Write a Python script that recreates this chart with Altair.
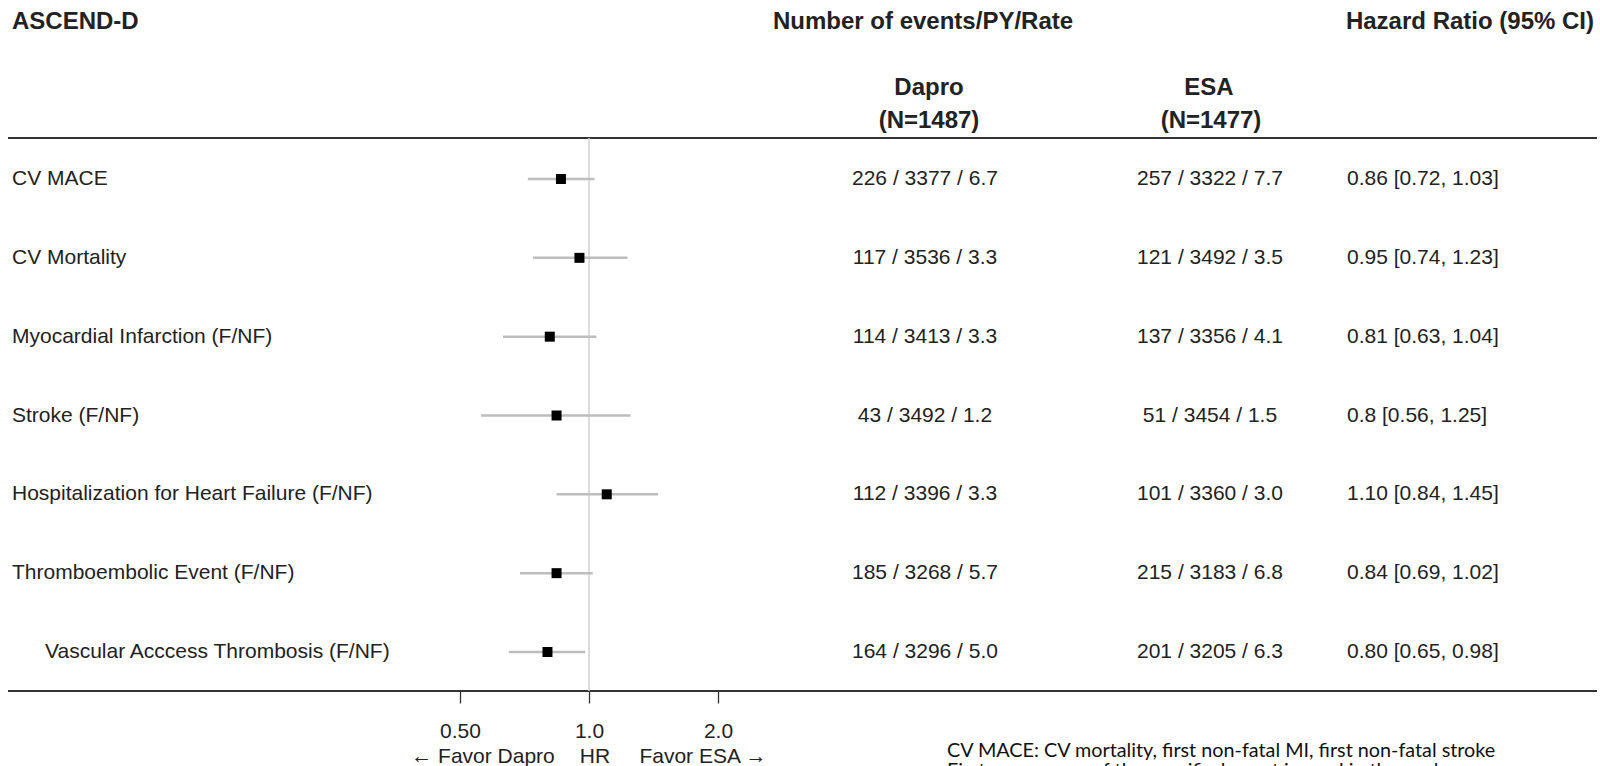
import altair as alt
import pandas as pd

# ---------------- data ----------------
outcomes = [
    "CV MACE",
    "CV Mortality",
    "Myocardial Infarction (F/NF)",
    "Stroke (F/NF)",
    "Hospitalization for Heart Failure (F/NF)",
    "Thromboembolic Event (F/NF)",
    "Vascular Acccess Thrombosis (F/NF)",
]
indent = [0, 0, 0, 0, 0, 0, 1]
hr = [0.86, 0.95, 0.81, 0.84, 1.10, 0.84, 0.80]
lower = [0.72, 0.74, 0.63, 0.56, 0.84, 0.69, 0.65]
upper = [1.03, 1.23, 1.04, 1.25, 1.45, 1.02, 0.98]
dapro = ["226 / 3377 / 6.7", "117 / 3536 / 3.3", "114 / 3413 / 3.3", "43 / 3492 / 1.2",
         "112 / 3396 / 3.3", "185 / 3268 / 5.7", "164 / 3296 / 5.0"]
esa = ["257 / 3322 / 7.7", "121 / 3492 / 3.5", "137 / 3356 / 4.1", "51 / 3454 / 1.5",
       "101 / 3360 / 3.0", "215 / 3183 / 6.8", "201 / 3205 / 6.3"]
hr_text = ["0.86 [0.72, 1.03]", "0.95 [0.74, 1.23]", "0.81 [0.63, 1.04]", "0.8 [0.56, 1.25]",
           "1.10 [0.84, 1.45]", "0.84 [0.69, 1.02]", "0.80 [0.65, 0.98]"]
tick_values = [0.5, 1.0, 2.0]
tick_labels = ["0.50", "1.0", "2.0"]

df = pd.DataFrame({
    "row": list(range(len(outcomes))),
    "outcome": outcomes,
    "indent": indent,
    "hr": hr,
    "lower": lower,
    "upper": upper,
    "dapro": dapro,
    "esa": esa,
    "hr_text": hr_text,
})
one = pd.DataFrame({"k": [0]})

FONT = "Liberation Sans"
FS = 21
HFS = 24
W, H = 1600, 691

yenc = alt.Y("row:Q", scale=alt.Scale(domain=[0, 6], range=[179, 652], nice=False), axis=None)
label_expr = ("datum.value == 0.5 ? '" + tick_labels[0] + "' : (datum.value == 1 ? '"
              + tick_labels[1] + "' : '" + tick_labels[2] + "')")
xscale = alt.Scale(type="log", domain=[0.5, 2.0], range=[460, 718], nice=False)

base = alt.Chart(df)

ci = base.mark_rule(color="#bdbdbd", strokeWidth=2.5).encode(
    x=alt.X("lower:Q", scale=xscale,
            axis=alt.Axis(values=tick_values, labelExpr=label_expr, title=None,
                          domain=False, grid=False, tickSize=12, tickWidth=1.3,
                          tickColor="#333333", labelFont=FONT, labelFontSize=FS,
                          labelColor="#222222", labelPadding=17, labelFlush=False,
                          labelOverlap=False)),
    x2="upper:Q",
    y=yenc,
)
pts = base.mark_square(color="black", size=100, opacity=1).encode(
    x=alt.X("hr:Q", scale=xscale), y=yenc
)
refline = alt.Chart(one).mark_rule(color="#d4d4d4", strokeWidth=1.6).encode(
    x=alt.datum(1.0), y=alt.value(138), y2=alt.value(691)
)

lab0 = base.transform_filter("datum.indent == 0").mark_text(
    align="left", baseline="middle", font=FONT, fontSize=FS, color="#222222"
).encode(x=alt.value(12), y=yenc, text="outcome:N")
lab1 = base.transform_filter("datum.indent == 1").mark_text(
    align="left", baseline="middle", font=FONT, fontSize=FS, color="#222222"
).encode(x=alt.value(45), y=yenc, text="outcome:N")
col_d = base.mark_text(align="center", baseline="middle", font=FONT, fontSize=FS,
                       color="#222222").encode(x=alt.value(925), y=yenc, text="dapro:N")
col_e = base.mark_text(align="center", baseline="middle", font=FONT, fontSize=FS,
                       color="#222222").encode(x=alt.value(1210), y=yenc, text="esa:N")
col_h = base.mark_text(align="left", baseline="middle", font=FONT, fontSize=FS,
                       color="#222222").encode(x=alt.value(1347), y=yenc, text="hr_text:N")


def note(text, x, y, align="left", bold=False, size=FS, font=FONT, color="#222222"):
    return alt.Chart(one).mark_text(
        text=text, align=align, baseline="middle", font=font, fontSize=size,
        fontWeight="bold" if bold else "normal", color=color,
    ).encode(x=alt.value(x), y=alt.value(y))


def hline(y):
    return alt.Chart(one).mark_rule(color="#333333", strokeWidth=2).encode(
        x=alt.value(8), x2=alt.value(1597), y=alt.value(y)
    )


layers = [
    hline(138), hline(691), refline, ci, pts,
    lab0, lab1, col_d, col_e, col_h,
    note("ASCEND-D", 12, 22, bold=True, size=HFS),
    note("Number of events/PY/Rate", 773, 22, bold=True, size=HFS),
    note("Hazard Ratio (95% CI)", 1594, 22, align="right", bold=True, size=HFS),
    note("Dapro", 929, 88, align="center", bold=True, size=HFS),
    note("(N=1487)", 929, 121, align="center", bold=True, size=HFS),
    note("ESA", 1209, 88, align="center", bold=True, size=HFS),
    note("(N=1477)", 1211, 121, align="center", bold=True, size=HFS),
    note("\u2190 Favor Dapro", 483, 757, align="center"),
    note("HR", 595, 757, align="center"),
    note("Favor ESA \u2192", 703, 757, align="center"),
    note("CV MACE: CV mortality, first non-fatal MI, first non-fatal stroke", 947, 751,
         font="Lato", size=19.8, color="#111111"),
    note("First occurrence of the specified event is used in the analyses", 947, 771,
         font="Lato", size=19.8, color="#111111"),
]

chart = alt.layer(*layers).properties(
    width=W, height=H,
    autosize=alt.AutoSizeParams(type="none"),
    padding={"left": 0, "top": 0, "right": 0, "bottom": 75},
    background="white",
).configure_view(stroke=None)

chart.save("out.html", embed_options={"renderer": "svg", "actions": False})
